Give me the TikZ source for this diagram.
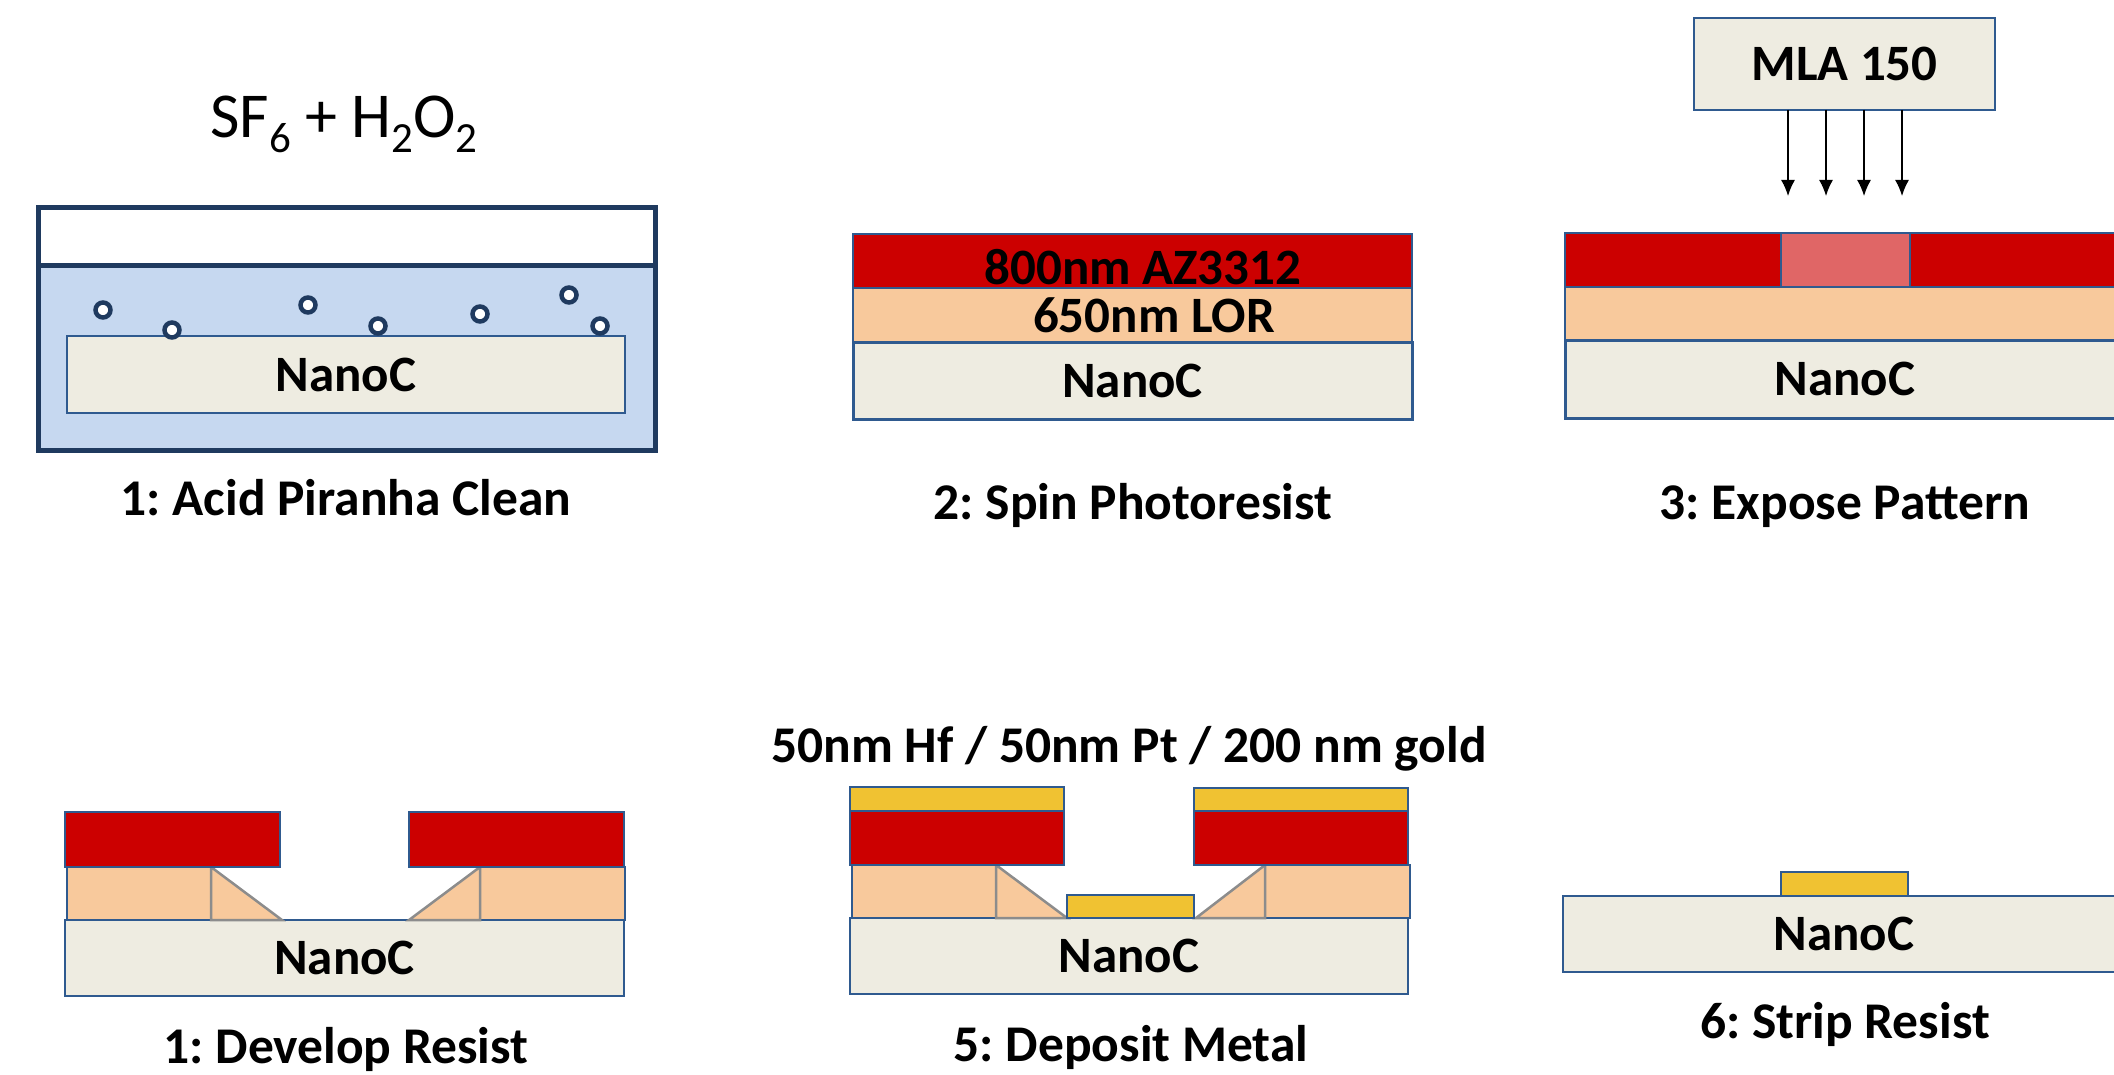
\documentclass[tikz,border=0pt]{standalone}
\usepackage{fontspec}
\setmainfont{Carlito}
\frenchspacing
\usetikzlibrary{arrows.meta}
\definecolor{edgeblue}{HTML}{2F5A8F}
\definecolor{navy}{HTML}{1F3A5F}
\definecolor{water}{HTML}{C6D8F0}
\definecolor{beige}{HTML}{EEECE1}
\definecolor{resist}{HTML}{CC0000}
\definecolor{lor}{HTML}{F8C99C}
\definecolor{exposed}{HTML}{E06666}
\definecolor{metal}{HTML}{F0C232}
\definecolor{undercut}{HTML}{8C8C8C}
\tikzset{
  x=1pt,y=-1pt,
  lay/.style={draw=edgeblue,line width=2pt,inner sep=0pt,outer sep=0pt,rectangle},
  sub/.style={lay,fill=beige,font=\fontsize{51}{58}\selectfont\bfseries,text height=33pt,text depth=-1pt},
  red/.style={lay,fill=resist},
  org/.style={lay,fill=lor},
  gold/.style={lay,fill=metal},
  pale/.style={lay,fill=exposed},
  tank/.style={draw=navy,line width=5pt,inner sep=0pt,outer sep=0pt,rectangle},
  bubble/.style={circle,draw=navy,fill=white,line width=4.5pt,minimum size=15pt,inner sep=0pt},
  steplabel/.style={anchor=base,inner sep=0pt,font=\fontsize{51.5}{60}\selectfont\bfseries},
  filmlabel/.style={anchor=base,inner sep=0pt,font=\fontsize{51}{58}\selectfont\bfseries},
  cut/.style={draw=undercut,fill=lor,line width=2.5pt,line join=miter},
  ray/.style={draw=black,line width=1.5pt,-{Latex[length=16pt,width=14pt]}},
}
% name, x1, y1, x2, y2, style, text
\newcommand{\lay}[7]{%
  \pgfmathsetmacro{\lw}{#4-#2}\pgfmathsetmacro{\lh}{#5-#3}%
  \pgfmathsetmacro{\lx}{(#2+#4)/2}\pgfmathsetmacro{\ly}{(#3+#5)/2}%
  \node[#6,minimum width=\lw pt,minimum height=\lh pt] (#1) at (\lx,\ly) {#7};%
}
\begin{document}
\begin{tikzpicture}
\path[use as bounding box,clip] (0,0) rectangle (2114,1075);
\fill[white] (0,0) rectangle (2114,1075);

% Step 1: piranha clean
\node[anchor=base,inner sep=0pt,font=\fontsize{64}{70}\selectfont] (chem) at (344,138)
  {SF\raisebox{-15pt}{\fontsize{43}{48}\selectfont 6} + H\raisebox{-15pt}{\fontsize{43}{48}\selectfont 2}O\raisebox{-15pt}{\fontsize{43}{48}\selectfont 2}};
\lay{air}{38}{208}{655}{266}{tank,fill=white}{}
\lay{bath}{38}{266}{655}{450}{tank,fill=water}{}
\lay{s1}{67}{336}{625}{413}{sub}{NanoC}
\node[bubble] (b1) at (103,310) {};
\node[bubble] (b2) at (172,330) {};
\node[bubble] (b3) at (308,305) {};
\node[bubble] (b4) at (378,326) {};
\node[bubble] (b5) at (480,314) {};
\node[bubble] (b6) at (569,295) {};
\node[bubble] (b7) at (600,326) {};
\node[steplabel] (l1) at (346,515) {1: Acid Piranha Clean};

% Step 2: spin photoresist
\lay{r2}{853}{234}{1412}{288}{red}{}
\lay{o2}{853}{288}{1412}{342}{org}{}
\lay{s2}{853}{342}{1412}{419}{sub,line width=3pt}{NanoC}
\node[filmlabel] (t2a) at (1143,284) {800nm AZ3312};
\node[filmlabel] (t2b) at (1154,332) {650nm LOR};
\node[steplabel] (l2) at (1133,519) {2: Spin Photoresist};

% Step 3: expose pattern
\lay{mla}{1694}{18}{1995}{110}{sub}{MLA 150}
\lay{r3}{1565}{233}{2130}{287}{red}{}
\lay{p3}{1781}{233}{1910}{287}{pale}{}
\lay{o3}{1565}{287}{2130}{340}{org}{}
\lay{s3}{1565}{340}{2125}{418}{sub,line width=3pt}{NanoC}
\coordinate (a1) at (1788,196);
\coordinate (a2) at (1826,196);
\coordinate (a3) at (1864,196);
\coordinate (a4) at (1902,196);
\draw[ray] (mla.south -| a1) -- (a1);
\draw[ray] (mla.south -| a2) -- (a2);
\draw[ray] (mla.south -| a3) -- (a3);
\draw[ray] (mla.south -| a4) -- (a4);
\node[steplabel] (l3) at (1845,519) {3: Expose Pattern};

% Step 4: develop resist
\lay{s4}{65}{920}{624}{996}{sub}{NanoC}
\lay{o4a}{67}{867}{211}{920}{org}{}
\lay{o4b}{480}{867}{625}{920}{org}{}
\draw[cut] (o4a.north east) -- (o4a.south east) -- (282,920) -- cycle;
\draw[cut] (o4b.north west) -- (o4b.south west) -- (409,920) -- cycle;
\lay{r4a}{65}{812}{280}{867}{red}{}
\lay{r4b}{409}{812}{624}{867}{red}{}
\node[steplabel] (l4) at (346,1063) {1: Develop Resist};

% Step 5: deposit metal
\node[steplabel] (h5) at (1129,762) {50nm Hf / 50nm Pt / 200 nm gold};
\lay{s5}{850}{918}{1408}{994}{sub}{NanoC}
\lay{o5a}{852}{865}{996}{918}{org}{}
\lay{o5b}{1265}{865}{1410}{918}{org}{}
\draw[cut] (o5a.north east) -- (o5a.south east) -- (1067,918) -- cycle;
\draw[cut] (o5b.north west) -- (o5b.south west) -- (1196,918) -- cycle;
\lay{r5a}{850}{811}{1064}{865}{red}{}
\lay{r5b}{1194}{811}{1408}{865}{red}{}
\lay{g5a}{850}{787}{1064}{811}{gold}{}
\lay{g5b}{1194}{788}{1408}{811}{gold}{}
\lay{g5c}{1067}{895}{1194}{918}{gold}{}
\node[steplabel] (l5) at (1131,1061) {5: Deposit Metal};

% Step 6: strip resist
\lay{s6}{1563}{896}{2125}{972}{sub}{NanoC}
\lay{g6}{1781}{872}{1908}{896}{gold}{}
\node[steplabel] (l6) at (1845,1038) {6: Strip Resist};
\end{tikzpicture}
\end{document}
